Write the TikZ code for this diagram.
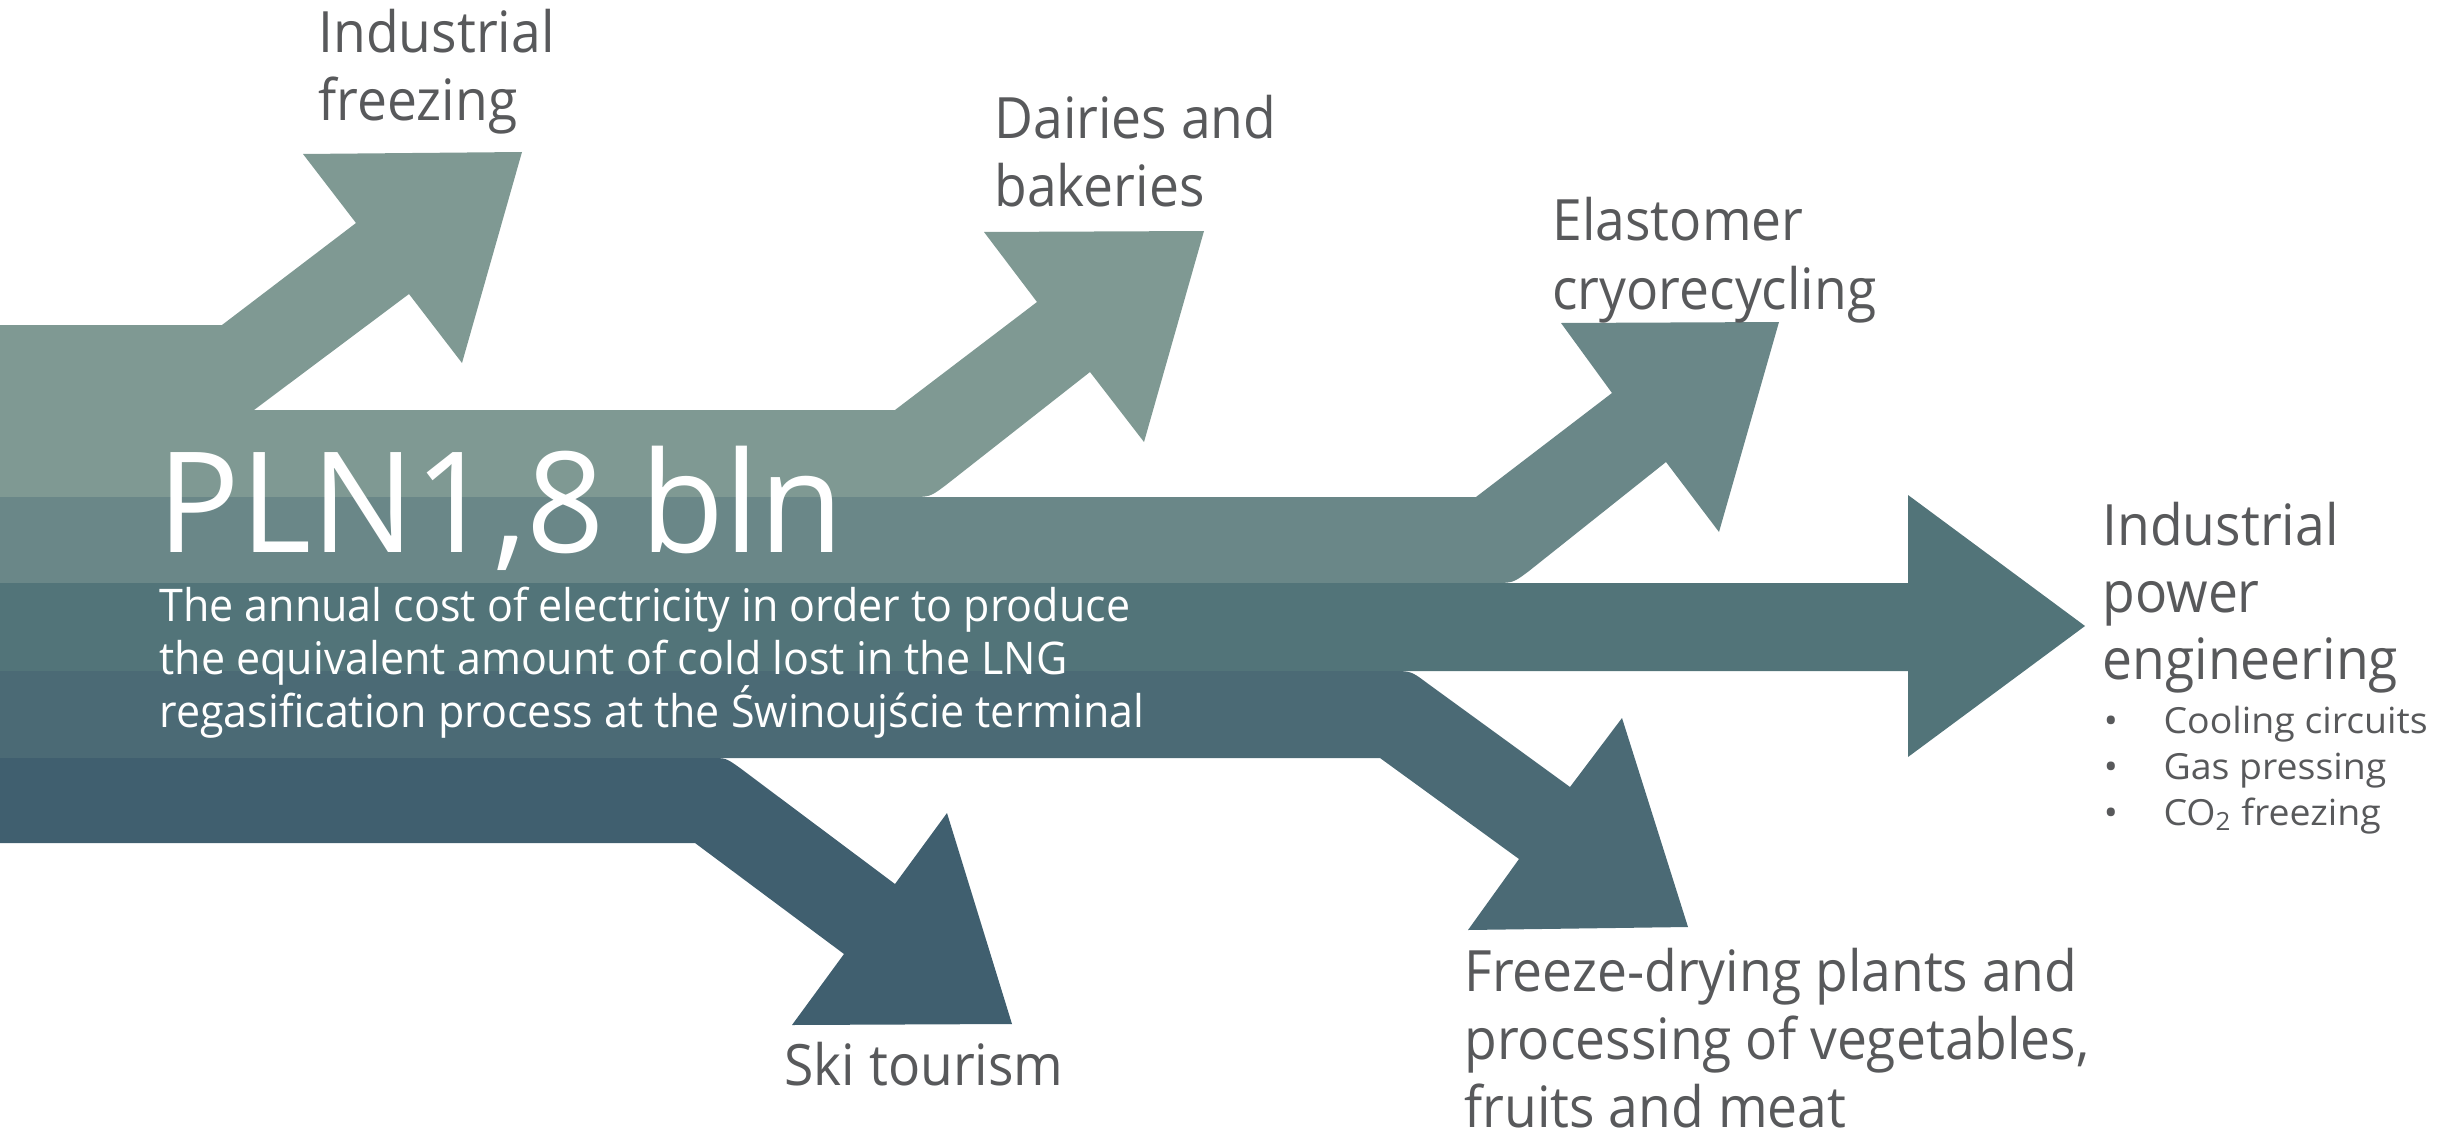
\documentclass[tikz,border=0pt]{standalone}
\usepackage{fontspec}
\setmainfont{Open Sans}
\newfontfamily\lblfont[FakeStretch=0.937]{Open Sans}
\newfontfamily\descfont[FakeStretch=0.955]{Open Sans}
\newfontfamily\subfont[FakeStretch=1.04]{Open Sans}
\newfontfamily\bigfont[FakeStretch=0.98]{Open Sans}
\definecolor{cA}{HTML}{7F9993}
\definecolor{cB}{HTML}{6A8788}
\definecolor{cC}{HTML}{527479}
\definecolor{cD}{HTML}{4B6A75}
\definecolor{cE}{HTML}{405F6F}
\definecolor{txtgrey}{HTML}{58595B}
\begin{document}
\begin{tikzpicture}[x=0.4pt,y=-0.4pt,
  lbl/.style={anchor=base west, inner sep=0pt, text=txtgrey, font=\lblfont\fontsize{22.8}{27}\selectfont},
  sub/.style={anchor=base west, inner sep=0pt, text=txtgrey, font=\subfont\fontsize{14.4}{17}\selectfont},
  bul/.style={anchor=base, inner sep=0pt, text=txtgrey, font=\subfont\fontsize{14.4}{17}\selectfont},
  desc/.style={anchor=base west, inner sep=0pt, text=white, font=\descfont\fontsize{18}{21}\selectfont},
  big/.style={anchor=base west, inner sep=0pt, text=white, font=\bigfont\fontsize{56}{60}\selectfont}]
\useasboundingbox (0,0) rectangle (2458,1132);
% band A: industrial freezing + dairies
\fill[cA] (0,325) -- (222,325) -- (356,223) -- (303,154) -- (522,152) -- (462,363) -- (409,294) -- (254,410)
  -- (895,410) -- (1037,302) -- (984,232) -- (1204,231) -- (1144,442) -- (1090,372)
  -- (946,485) .. controls (930,497) .. (910,497) -- (0,497) -- cycle;
% band B: elastomer
\fill[cB] (0,497) -- (1476,497) -- (1612,393) -- (1561,323) -- (1779,322) -- (1719,532) -- (1666,462)
  -- (1529,571) .. controls (1513,583) .. (1493,583) -- (0,583) -- cycle;
% band C: industrial power engineering
\fill[cC] (0,583) -- (1908,583) -- (1908,495) -- (2085,626) -- (1908,757) -- (1908,671) -- (0,671) -- cycle;
% band D: freeze-drying
\fill[cD] (0,671) -- (1391,671) .. controls (1411,671) .. (1427,683) -- (1570,787) -- (1622,718) -- (1688,927)
  -- (1468,930) -- (1519,859) -- (1380,758) -- (0,758) -- cycle;
% band E: ski tourism
\fill[cE] (0,758) -- (711,758) .. controls (726,758) .. (740,768) -- (895,884) -- (947,813) -- (1012,1024)
  -- (792,1025) -- (844,954) -- (695,843) -- (0,843) -- cycle;
% labels
\node[lbl] (if1) at (318,53) {Industrial};
\node[lbl] (if2) at (318,120) {freezing};
\node[lbl] (db1) at (994,138) {Dairies and};
\node[lbl] (db2) at (994,206) {bakeries};
\node[lbl] (el1) at (1552,240) {Elastomer};
\node[lbl] (el2) at (1552,309) {cryorecycling};
\node[lbl] (ip1) at (2102,545) {Industrial};
\node[lbl] (ip2) at (2102,612) {power};
\node[lbl] (ip3) at (2102,679) {engineering};
\node[bul] (b1) at (2111,733) {\textbullet};
\node[bul] (b2) at (2111,779) {\textbullet};
\node[bul] (b3) at (2111,825) {\textbullet};
\node[sub] (s1) at (2163,733) {Cooling circuits};
\node[sub] (s2) at (2163,779) {Gas pressing};
\node[sub] (s3) at (2163,825) {CO\textsubscript{2} freezing};
\node[lbl] (sk) at (784,1085) {Ski tourism};
\node[lbl] (fd1) at (1464,991) {Freeze-drying plants and};
\node[lbl] (fd2) at (1464,1059) {processing of vegetables,};
\node[lbl] (fd3) at (1464,1127) {fruits and meat};
\node[big] (pln) at (157,552) {PLN1,8 bln};
\node[desc] (d1) at (159,621) {The annual cost of electricity in order to produce};
\node[desc] (d2) at (159,674) {the equivalent amount of cold lost in the LNG};
\node[desc] (d3) at (159,727) {regasification process at the Świnoujście terminal};
\end{tikzpicture}
\end{document}
